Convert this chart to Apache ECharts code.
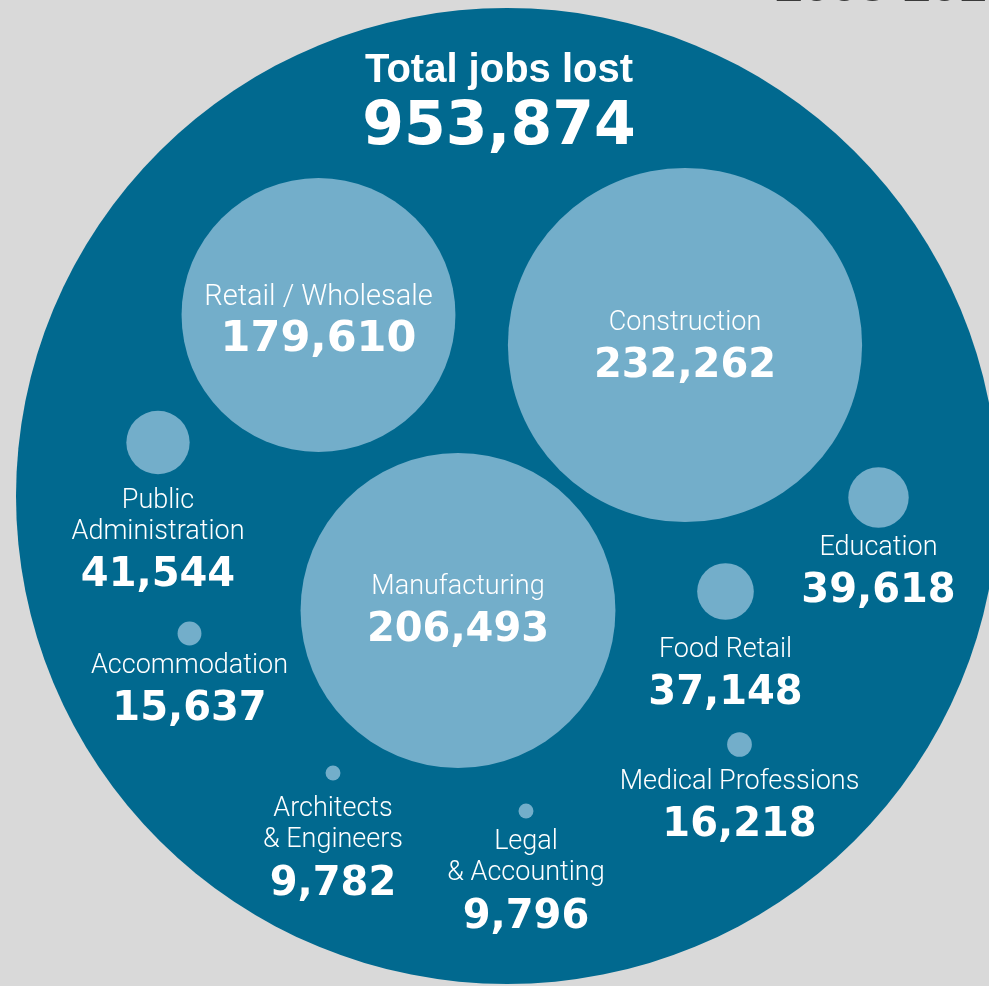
<!DOCTYPE html>
<html>
<head>
<meta charset="utf-8">
<script src="https://cdn.jsdelivr.net/npm/echarts@6/dist/echarts.min.js"></script>
<style>
html,body{margin:0;padding:0;background:#d9d9d9;}
#chart{width:989px;height:986px;}
</style>
</head>
<body>
<div id="chart"></div>
<script>
// ---- data ----
const categories = ['Retail / Wholesale', 'Construction', 'Manufacturing', 'Public\nAdministration', 'Accommodation',
  'Architects\n& Engineers', 'Legal\n& Accounting', 'Education', 'Food Retail', 'Medical Professions'];
const jobsLost = [179610, 232262, 206493, 41544, 15637, 9782, 9796, 39618, 37148, 16218];
// layout coordinates of bubble centres (chart units)
const posX = [318.5, 685, 458, 158, 189.5, 333, 526, 878.5, 725.5, 739.5];
const posY = [315, 345, 610.5, 442.5, 633.5, 773, 811, 497.5, 591.5, 744.5];
const totalLabel = 'Total jobs lost';
const totalJobs = 953874;
const totalPos = [507, 496];
const headerText = '2008-2010';

// ---- styling / layout ----
const SIZE_K = 0.001525; // bubble diameter per job lost
const labelLayout = [
  { position: 'inside', offset: [0, 8.5], big: true },
  { position: 'inside', offset: [0, 6] },
  { position: 'inside', offset: [0, 4.5] },
  { position: 'bottom', distance: 11.4 },
  { position: 'bottom', distance: 5.2 },
  { position: 'bottom', distance: 13.6 },
  { position: 'bottom', distance: 8.6 },
  { position: 'bottom', distance: 4.6 },
  { position: 'bottom', distance: 14.5 },
  { position: 'bottom', distance: 9.5 }
];
const fmt = v => v.toLocaleString('en-US');
const nameFont = { color: '#fff', fontFamily: 'Roboto', fontWeight: 300 };
const numFont = { color: '#fff', fontFamily: 'DejaVu Sans', fontWeight: 'bold' };

const bubbleData = posX.map((x, i) => {
  const L = labelLayout[i];
  const big = !!L.big;
  const label = {
    show: true,
    position: L.position,
    align: 'center',
    formatter: () => {
      const lines = categories[i].split('\n').map(s => `{${big ? 'n2' : 'n'}|${s}}`);
      lines.push(`{${big ? 'v2' : 'v'}|${fmt(jobsLost[i])}}`);
      return lines.join('\n');
    }
  };
  if (L.offset) label.offset = L.offset;
  if (L.distance !== undefined) label.distance = L.distance;
  return { name: categories[i], value: [x, posY[i], jobsLost[i]], label };
});

const chart = echarts.init(document.getElementById('chart'), null, { renderer: 'canvas' });
chart.setOption({
  backgroundColor: '#d9d9d9',
  animation: false,
  title: {
    text: headerText,
    left: 775,
    top: -38,
    padding: 0,
    textStyle: { color: '#3a3a3a', fontSize: 50, lineHeight: 50, fontFamily: 'Liberation Sans', fontWeight: 'bold' }
  },
  grid: { left: 0, right: 0, top: 0, bottom: 0 },
  xAxis: { type: 'value', min: 0, max: 989, show: false },
  yAxis: { type: 'value', min: 0, max: 986, inverse: true, show: false },
  series: [
    {
      name: 'total',
      type: 'scatter',
      z: 1,
      silent: true,
      symbol: 'circle',
      symbolSize: [982, 976],
      itemStyle: { color: '#01698f', opacity: 1 },
      data: [{ value: [totalPos[0], totalPos[1], totalJobs] }],
      label: {
        show: true,
        position: 'insideTop',
        distance: 40.5,
        offset: [-8, 0],
        align: 'center',
        formatter: () => `{t|${totalLabel}}\n{b|${fmt(totalJobs)}}`,
        rich: {
          t: { color: '#fff', fontFamily: 'Liberation Sans', fontWeight: 'bold', fontSize: 40, lineHeight: 44 },
          b: { color: '#fff', fontFamily: 'DejaVu Sans', fontWeight: 'bold', fontSize: 60, lineHeight: 72.8 }
        }
      }
    },
    {
      name: 'jobs',
      type: 'scatter',
      z: 2,
      silent: true,
      symbol: 'circle',
      symbolSize: val => val[2] * SIZE_K,
      itemStyle: { color: '#73aeca', opacity: 1 },
      data: bubbleData,
      label: {
        show: true,
        rich: {
          n: Object.assign({ fontSize: 27, lineHeight: 31 }, nameFont),
          v: Object.assign({ fontSize: 40, lineHeight: 56.4 }, numFont),
          n2: Object.assign({ fontSize: 29, lineHeight: 33 }, nameFont),
          v2: Object.assign({ fontSize: 43, lineHeight: 51.8 }, numFont)
        }
      }
    }
  ]
});
</script>
</body>
</html>
